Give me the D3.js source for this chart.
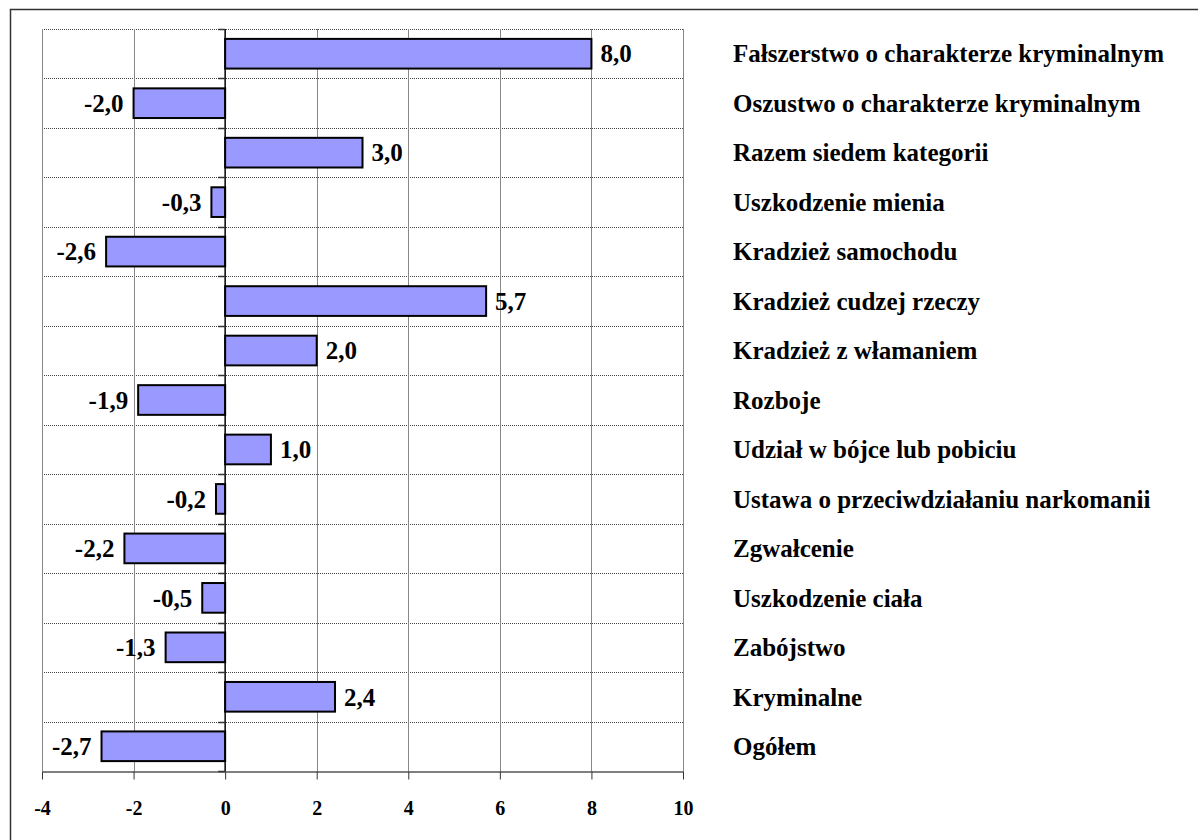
<!DOCTYPE html>
<html>
<head>
<meta charset="utf-8">
<script src="https://cdn.jsdelivr.net/npm/d3@7"></script>
<style>
  body { margin: 0; background: #fff; }
</style>
</head>
<body>
<div id="chart"></div>
<script>
// categories top -> bottom, as in the picture
const categories = [
  'Fałszerstwo o charakterze kryminalnym',
  'Oszustwo o charakterze kryminalnym',
  'Razem siedem kategorii',
  'Uszkodzenie mienia',
  'Kradzież samochodu',
  'Kradzież cudzej rzeczy',
  'Kradzież z włamaniem',
  'Rozboje',
  'Udział w bójce lub pobiciu',
  'Ustawa o przeciwdziałaniu narkomanii',
  'Zgwałcenie',
  'Uszkodzenie ciała',
  'Zabójstwo',
  'Kryminalne',
  'Ogółem'
]
const values = [8.0, -2.0, 3.0, -0.3, -2.6, 5.7, 2.0, -1.9, 1.0, -0.2, -2.2, -0.5, -1.3, 2.4, -2.7]
const xTicks = [-4, -2, 0, 2, 4, 6, 8, 10]

const W = 1198, H = 840
const plot = { left: 42, right: 683, top: 29, bottom: 771 }

const data = categories.map((c, i) => ({ label: c, value: values[i] }))
const fmt = v => d3.format('.1f')(v).replace('.', ',').replace('−', '-')

// all text goes through inline styles
const serif = (sel, size) => sel
  .style('font-family', '"Liberation Serif"')
  .style('font-weight', 'bold')
  .style('font-size', size + 'px')
  .style('fill', '#000')

const svg = d3.select('#chart').append('svg')
  .attr('width', W).attr('height', H)

// outer frame (right and bottom edges fall outside the picture)
svg.append('rect')
  .attr('x', 10.5).attr('y', 9.5)
  .attr('width', W + 20).attr('height', H + 20)
  .attr('fill', 'none').attr('stroke', '#333').attr('stroke-width', 1.5)

const x = d3.scaleLinear().domain([-4, 10]).range([plot.left, plot.right])
const rows = d3.scaleBand().domain(categories).range([plot.top, plot.bottom])
const y = d3.scaleBand().domain(categories).range([plot.top, plot.bottom])
  .paddingInner(0.4).paddingOuter(0.2)

// horizontal dotted gridlines at row boundaries
const bounds = categories.map(c => rows(c)).concat([plot.bottom])
svg.append('g').selectAll('line')
  .data(bounds.slice(0, -1))
  .enter().append('line')
  .attr('x1', plot.left).attr('x2', plot.right)
  .attr('y1', d => Math.round(d) + 0.5).attr('y2', d => Math.round(d) + 0.5)
  .attr('stroke', '#444').attr('stroke-width', 1).attr('stroke-dasharray', '1,1')

// vertical gridlines
svg.append('g').selectAll('line')
  .data(xTicks.filter(t => t !== 0))
  .enter().append('line')
  .attr('x1', d => Math.round(x(d)) + 0.5).attr('x2', d => Math.round(x(d)) + 0.5)
  .attr('y1', plot.top).attr('y2', plot.bottom)
  .attr('stroke', '#888').attr('stroke-width', 1)

// bottom axis
const xAxis = svg.append('g')
  .attr('transform', 'translate(0,' + (plot.bottom + 0.5) + ')')
  .call(d3.axisBottom(x).tickValues(xTicks).tickSize(8).tickSizeOuter(0).tickFormat(d => String(d)))
xAxis.attr('font-family', null).attr('font-size', null)
xAxis.select('.domain').attr('stroke', '#555').attr('stroke-width', 1.5)
xAxis.selectAll('.tick line').attr('stroke', '#333')
serif(xAxis.selectAll('.tick text'), 20)
  .attr('y', 36).attr('dy', '0.35em')
  .text(d => d < 0 ? '-' + Math.abs(d) : d)

// bars
svg.append('g').selectAll('rect')
  .data(data)
  .enter().append('rect')
  .attr('x', d => x(Math.min(0, d.value)))
  .attr('y', d => y(d.label))
  .attr('width', d => Math.abs(x(d.value) - x(0)))
  .attr('height', y.bandwidth())
  .attr('fill', '#9999ff').attr('stroke', '#000').attr('stroke-width', 2)

// zero axis with small tick marks at row boundaries
svg.append('line')
  .attr('x1', x(0)).attr('x2', x(0))
  .attr('y1', plot.top).attr('y2', plot.bottom)
  .attr('stroke', '#000').attr('stroke-width', 1.5)
svg.append('g').selectAll('line')
  .data(bounds)
  .enter().append('line')
  .attr('x1', x(0) - 7).attr('x2', x(0))
  .attr('y1', d => Math.round(d) + 0.5).attr('y2', d => Math.round(d) + 0.5)
  .attr('stroke', '#333').attr('stroke-width', 1.5)

// value labels
serif(svg.append('g').selectAll('text')
  .data(data)
  .enter().append('text'), 25)
  .attr('x', d => d.value >= 0 ? x(d.value) + 9 : x(d.value) - 10)
  .attr('y', d => y(d.label) + y.bandwidth() / 2)
  .attr('dy', '0.35em')
  .attr('text-anchor', d => d.value >= 0 ? 'start' : 'end')
  .text(d => fmt(d.value))

// category labels on the right
serif(svg.append('g').selectAll('text')
  .data(data)
  .enter().append('text'), 25)
  .attr('x', 733)
  .attr('y', d => rows(d.label) + rows.bandwidth() / 2)
  .attr('dy', '0.35em')
  .text(d => d.label)
</script>
</body>
</html>
